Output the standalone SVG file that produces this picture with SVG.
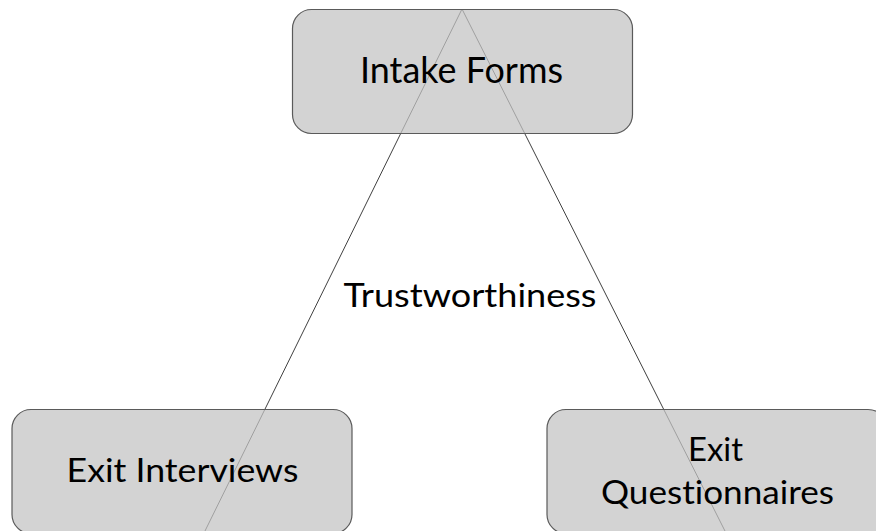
<svg xmlns="http://www.w3.org/2000/svg" width="876" height="531" viewBox="0 0 876 531">
  <style>
    .box { fill: #c3c3c3; fill-opacity: 0.73; stroke: #5a5a5a; stroke-width: 1.2; }
    .edge { fill: none; stroke: #404040; stroke-width: 1; }
    .lbl { font-family: Lato, "Open Sans", "Liberation Sans", sans-serif; font-size: 32.5px; fill: #000; text-anchor: middle; font-variant-ligatures: none; }
    .big { font-size: 37px; }
  </style>
  <rect width="876" height="531" fill="#ffffff"/>
  <g id="connectors">
    <path class="edge" d="M462,9 L204,533"/>
    <path class="edge" d="M462,9 L726,533"/>
  </g>
  <g id="intake-forms">
    <rect class="box" x="292.5" y="9.5" width="340" height="124" rx="19" ry="19"/>
    <text class="lbl big" x="461.5" y="82.5" textLength="203" lengthAdjust="spacingAndGlyphs">Intake Forms</text>
  </g>
  <g id="exit-interviews">
    <rect class="box" x="12" y="409.5" width="340" height="124" rx="19" ry="19"/>
    <text class="lbl" x="182.5" y="481.5" textLength="232" lengthAdjust="spacingAndGlyphs">Exit Interviews</text>
  </g>
  <g id="exit-questionnaires">
    <rect class="box" x="547" y="409.5" width="340" height="124" rx="19" ry="19"/>
    <text class="lbl" x="715.5" y="460.5" textLength="55" lengthAdjust="spacingAndGlyphs">Exit</text>
    <text class="lbl" x="717.5" y="503.5" textLength="233" lengthAdjust="spacingAndGlyphs">Questionnaires</text>
  </g>
  <g id="center-label">
    <text class="lbl" x="470" y="306.5" textLength="253" lengthAdjust="spacingAndGlyphs">Trustworthiness</text>
  </g>
</svg>
